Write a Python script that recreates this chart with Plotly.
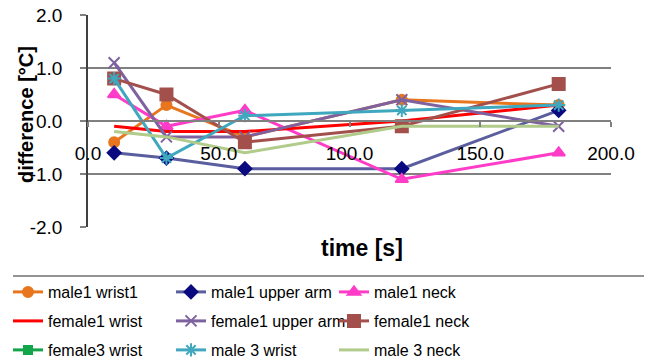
import plotly.graph_objects as go

time_s = [10, 30, 60, 120, 180]

male1_wrist1 = [-0.4, 0.3, -0.3, 0.4, 0.3]
male1_upper_arm = [-0.6, -0.7, -0.9, -0.9, 0.2]
male1_neck = [0.5, -0.1, 0.2, -1.1, -0.6]
female1_wrist = [-0.1, -0.2, -0.2, 0.0, 0.3]
female1_upper_arm = [1.1, -0.3, -0.3, 0.4, -0.1]
female1_neck = [0.8, 0.5, -0.4, -0.1, 0.7]
female3_wrist = [None, None, None, None, None]
male3_wrist = [0.8, -0.7, 0.1, 0.2, 0.3]
male3_neck = [-0.2, -0.3, -0.6, -0.1, -0.1]

x_tickvals = [0, 50, 100, 150, 200]
x_ticktext = ["0.0", "50.0", "100.0", "150.0", "200.0"]
y_tickvals = [-2, -1, 0, 1, 2]
y_ticktext = ["-2.0", "-1.0", "0.0", "1.0", "2.0"]

FONT = "Liberation Sans, Arial, sans-serif"

series = [
    ("male1 wrist1", male1_wrist1, "#E8761E", "#E8761E", "circle", 10, "legend"),
    ("male1 upper arm", male1_upper_arm, "#5A5E9E", "#0A0A80", "diamond", 10, "legend"),
    ("male1 neck", male1_neck, "#FF3CC8", "#FF3CC8", "triangle-up", 11, "legend"),
    ("female1 wrist", female1_wrist, "#FF0000", "#FF0000", None, 0, "legend2"),
    ("female1 upper arm", female1_upper_arm, "#7E62A0", "#7E62A0", "x-thin-open", 11, "legend2"),
    ("female1 neck", female1_neck, "#A3504C", "#A3504C", "square", 12, "legend2"),
    ("female3 wrist", female3_wrist, "#12A54A", "#12A54A", "square", 8, "legend3"),
    ("male 3 wrist", male3_wrist, "#3FA7BE", "#3FA7BE", "asterisk-open", 11, "legend3"),
    ("male 3 neck", male3_neck, "#B0CB8A", "#B0CB8A", None, 0, "legend3"),
]

fig = go.Figure()
for name, vals, lc, mc, sym, ms, leg in series:
    if sym is None:
        mode = "lines"
        marker = None
    else:
        mode = "lines+markers"
        marker = dict(symbol=sym, size=ms, color=mc, line=dict(color=mc, width=2))
    fig.add_trace(go.Scatter(
        x=time_s, y=vals, name=name, mode=mode,
        line=dict(color=lc, width=3),
        marker=marker, legend=leg, connectgaps=False,
    ))

# page offset (body margin) -> work in screen pixels
OFF = 8
W, H = 652 - OFF, 362 - OFF
PL, PR, PT, PB = 88, 611, 15, 227  # plot area in screen px
L, T = PL - OFF, PT - OFF
R, B = W - (PR - OFF), H - (PB - OFF)
pw, ph = PR - PL, PB - PT

def px_x(sx):
    return (sx - PL) / pw

def px_y(sy):
    return (PB - sy) / ph

def cont_y(sy):
    return 1 - (sy - OFF) / H

legend_common = dict(
    orientation="h", xref="container", yref="container",
    xanchor="left", yanchor="middle",
    font=dict(family=FONT, size=16, color="#000000"),
    entrywidth=118, entrywidthmode="pixels",
    bgcolor="rgba(0,0,0,0)", traceorder="normal",
)

fig.update_layout(
    width=W, height=H,
    margin=dict(l=L, r=R, t=T, b=B, autoexpand=False),
    paper_bgcolor="white", plot_bgcolor="white",
    font=dict(family=FONT, color="#000000"),
    showlegend=True,
    legend=dict(**legend_common, x=0, y=cont_y(292)),
    legend2=dict(**legend_common, x=0, y=cont_y(321)),
    legend3=dict(**legend_common, x=0, y=cont_y(350)),
    xaxis=dict(
        range=[0, 200], anchor="free", position=0.5, automargin=False,
        tickvals=x_tickvals, ticktext=x_ticktext,
        showline=True, linecolor="#808080", linewidth=1.5,
        ticks="outside", ticklen=5, tickcolor="#808080", tickwidth=1.5,
        showgrid=False, zeroline=False,
        tickfont=dict(family=FONT, size=19, color="#000000"),
        ticklabelstandoff=10, ticklabeloverflow="allow",
    ),
    yaxis=dict(
        range=[-2, 2], tickvals=y_tickvals, ticktext=y_ticktext, automargin=False,
        showline=True, linecolor="#404040", linewidth=1.5,
        ticks="outside", ticklen=6, tickcolor="#808080", tickwidth=1.5,
        showgrid=True, gridcolor="#808080", gridwidth=1.5,
        zeroline=False,
        tickfont=dict(family=FONT, size=19, color="#000000"),
        ticklabelstandoff=14, ticklabeloverflow="allow",
    ),
    annotations=[
        dict(text="<b>difference [°C]</b>", xref="paper", yref="paper",
             x=px_x(26), y=px_y(115), textangle=-90, showarrow=False,
             font=dict(family=FONT, size=20, color="#000000"),
             xanchor="center", yanchor="middle"),
        dict(text="<b>time [s]</b>", xref="paper", yref="paper",
             x=px_x(362), y=px_y(248), showarrow=False,
             font=dict(family=FONT, size=23, color="#000000"),
             xanchor="center", yanchor="middle"),
    ],
    shapes=[
        dict(type="line", xref="paper", yref="paper",
             x0=px_x(13), x1=px_x(660), y0=px_y(276), y1=px_y(276),
             line=dict(color="#707070", width=1.5)),
    ],
)

fig.write_html("out.html")
